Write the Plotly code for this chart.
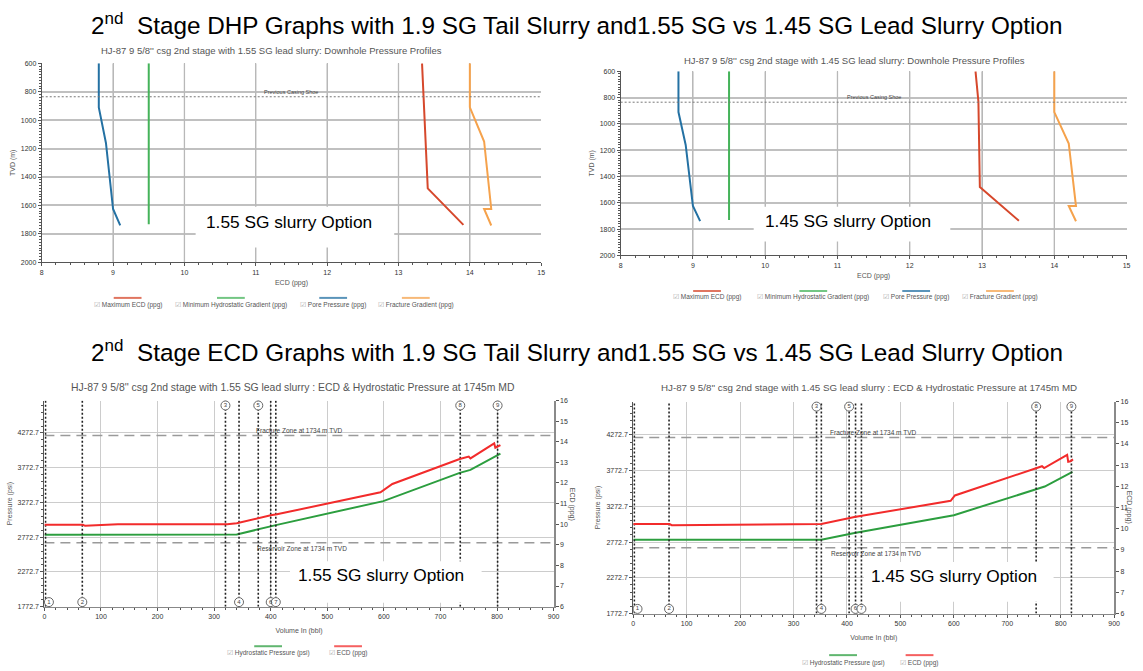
import plotly.graph_objects as go

# ---------------- data ----------------
# Downhole pressure profiles (ECD in ppg vs TVD in m)
pore_tvd = [600, 910, 1160, 1625, 1740]
pore_ppg = [8.8, 8.8, 8.9, 9.0, 9.1]
min_hyd_tvd = [600, 1732]
min_hyd_ppg = [9.5, 9.5]
frac_tvd = [600, 910, 1150, 1625, 1625, 1741]
frac_ppg = [14.0, 14.0, 14.2, 14.3, 14.2, 14.3]
max_ecd_155_tvd = [600, 1480, 1737]
max_ecd_155_ppg = [13.33, 13.41, 13.91]
max_ecd_145_tvd = [600, 830, 1480, 1737]
max_ecd_145_ppg = [12.91, 12.95, 12.97, 13.51]
casing_shoe_tvd = 835

# ECD & hydrostatic pressure at 1745 m MD vs volume pumped (bbl)
hyd_155_vol = [0, 340, 411, 599, 734, 753, 806]
hyd_155_psi = [2808, 2812, 2950, 3292, 3699, 3742, 3974]
ecd_155_vol = [0, 68, 72, 130, 323, 340, 400, 411, 594, 615, 734, 750, 753, 795, 797, 806]
ecd_155_ppg = [9.97, 9.97, 9.92, 10.0, 10.0, 10.05, 10.43, 10.48, 11.55, 11.95, 13.16, 13.28, 13.19, 13.92, 13.71, 13.84]

hyd_145_vol = [0, 352, 414, 600, 770, 822]
hyd_145_psi = [2805, 2805, 2900, 3149, 3550, 3757]
ecd_145_vol = [0, 68, 72, 352, 414, 594, 602, 765, 769, 812, 814, 818, 823]
ecd_145_ppg = [10.22, 10.22, 10.17, 10.22, 10.55, 11.32, 11.57, 12.95, 12.86, 13.48, 13.16, 13.18, 13.27]

event_labels = ["1", "2", "3", "4", "5", "6", "7", "8", "9"]
events_155_vol = [2, 67, 320, 344, 378, 400, 409, 735, 801]
events_145_vol = [2, 67, 343, 352, 404, 416, 427, 754, 820]
top_labelled = ["3", "5", "8", "9"]

fracture_zone_ppg = 14.3
reservoir_zone_ppg = 9.1
psi_ticks = [1772.7, 2272.7, 2772.7, 3272.7, 3772.7, 4272.7]
psi_ticktext = ["1772.7", "2272.7", "2772.7", "3272.7", "3772.7", "4272.7"]
ecd_ticks = [8, 9, 10, 11, 12, 13, 14, 15]
tvd_range = [600, 2000]

dhp_series = ["Maximum ECD (ppg)", "Minimum Hydrostatic Gradient (ppg)", "Pore Pressure (ppg)", "Fracture Gradient (ppg)"]
ecd_series = ["Hydrostatic Pressure (psi)", "ECD (ppg)"]

# ---------------- helpers ----------------
W, H = 1143, 671
FONT = "Liberation Sans"


def fx(p):
    return p / W


def fy(p):
    return 1 - p / H


C_MAX = "#d6482c"
C_MIN = "#45b35a"
C_PORE = "#2471a3"
C_FRAC = "#f5a24c"
C_HYD = "#2c9e3f"
C_ECD = "#f22b2b"
C_GRID_V = "#b8b8b8"

fig = go.Figure()


def dhp(xa, ya, max_tvd, max_ppg):
    # vertical grid lines at the ECD ticks (drawn first, under the data)
    for t in ecd_ticks[1:-1]:
        fig.add_trace(go.Scatter(x=[t, t], y=tvd_range, xaxis=xa, yaxis=ya, mode="lines",
                                 line=dict(color=C_GRID_V, width=1.3), hoverinfo="skip",
                                 cliponaxis=False))
    for xs, ys, c in [(max_ppg, max_tvd, C_MAX), (min_hyd_ppg, min_hyd_tvd, C_MIN),
                      (pore_ppg, pore_tvd, C_PORE), (frac_ppg, frac_tvd, C_FRAC)]:
        fig.add_trace(go.Scatter(x=xs, y=ys, xaxis=xa, yaxis=ya, mode="lines",
                                 line=dict(color=c, width=2), hoverinfo="skip"))
    fig.add_trace(go.Scatter(x=[8, 15], y=[casing_shoe_tvd, casing_shoe_tvd], xaxis=xa, yaxis=ya,
                             mode="lines", line=dict(color="#777", width=1, dash="2px,2px"),
                             hoverinfo="skip"))
    fig.add_annotation(x=11.5, y=casing_shoe_tvd, xref=xa, yref=ya, text="Previous Casing Shoe",
                       showarrow=False, yanchor="bottom",
                       font=dict(size=5.5, color="#444", family=FONT))


dhp("x", "y", max_ecd_155_tvd, max_ecd_155_ppg)
dhp("x2", "y2", max_ecd_145_tvd, max_ecd_145_ppg)


def ecd_chart(xa, ya, yb, hv, hp, ev, ep, events):
    for z in [fracture_zone_ppg, reservoir_zone_ppg]:
        fig.add_trace(go.Scatter(x=[0, 900], y=[z, z], xaxis=xa, yaxis=yb, mode="lines",
                                 line=dict(color="#9a9a9a", width=1.5, dash="10px,6px"),
                                 hoverinfo="skip"))
    fig.add_annotation(x=450, y=fracture_zone_ppg, xref=xa, yref=yb,
                       text="Fracture Zone at 1734 m TVD", showarrow=False, yanchor="bottom",
                       font=dict(size=6.5, color="#444", family=FONT))
    fig.add_annotation(x=455, y=reservoir_zone_ppg, xref=xa, yref=yb,
                       text="Reservoir Zone at 1734 m TVD", showarrow=False, yanchor="top",
                       font=dict(size=6.5, color="#444", family=FONT))
    lx, ly = [], []
    for v in events:
        lx += [v, v, None]
        ly += [6, 16, None]
    fig.add_trace(go.Scatter(x=lx, y=ly, xaxis=xa, yaxis=yb, mode="lines",
                             line=dict(color="#222", width=1.6, dash="2px,2px"), hoverinfo="skip"))
    fig.add_trace(go.Scatter(x=hv, y=hp, xaxis=xa, yaxis=ya, mode="lines",
                             line=dict(color=C_HYD, width=2), hoverinfo="skip"))
    fig.add_trace(go.Scatter(x=ev, y=ep, xaxis=xa, yaxis=yb, mode="lines",
                             line=dict(color=C_ECD, width=2), hoverinfo="skip"))
    cx = [max(v, 8) for v in events]
    cy = [15.76 if lab in top_labelled else 6.22 for lab in event_labels]
    fig.add_trace(go.Scatter(x=cx, y=cy, xaxis=xa, yaxis=yb, mode="markers+text",
                             text=event_labels, textposition="middle center",
                             textfont=dict(size=6, color="#444", family=FONT),
                             marker=dict(size=9, color="white", line=dict(color="#666", width=1)),
                             hoverinfo="skip", cliponaxis=False))


ecd_chart("x3", "y3", "y4", hyd_155_vol, hyd_155_psi, ecd_155_vol, ecd_155_ppg, events_155_vol)
ecd_chart("x4", "y5", "y6", hyd_145_vol, hyd_145_psi, ecd_145_vol, ecd_145_ppg, events_145_vol)

tickfont = dict(size=7, color="#333", family=FONT)
titlefont = dict(size=7, color="#555", family=FONT)
base = dict(showline=True, linecolor="#555", linewidth=1, ticks="outside", ticklen=3,
            tickcolor="#555", tickfont=tickfont, showgrid=True, gridcolor="#c8c8c8", gridwidth=1,
            zeroline=False, title_font=titlefont)

ecd_minor = [round(8 + 0.2 * k, 1) for k in range(36) if k % 5 != 0]
xa_dhp = dict(base, range=[8, 15], tickmode="array", tickvals=ecd_ticks,
              ticktext=[str(t) for t in ecd_ticks], showgrid=True,
              gridcolor=C_GRID_V, gridwidth=1,
              title=dict(text="ECD (ppg)", standoff=5),
              minor=dict(ticks="outside", ticklen=2, tickmode="array", tickvals=ecd_minor,
                         tickcolor="#555", showgrid=False))
ya_dhp = dict(base, range=[tvd_range[1], tvd_range[0]], dtick=200, gridwidth=1.5, gridcolor="#c0c0c0",
              title=dict(text="TVD (m)", standoff=4),
              minor=dict(ticks="outside", ticklen=2, dtick=20, tickcolor="#555", showgrid=False))

xa_vol = dict(base, range=[0, 900], dtick=100, linecolor="#888", gridcolor="#cccccc",
              title=dict(text="Volume In (bbl)", standoff=9),
              minor=dict(ticks="outside", ticklen=2, dtick=20, tickcolor="#555", showgrid=False))
ya_psi = dict(base, range=[1772.7, 4740], tickvals=psi_ticks, ticktext=psi_ticktext, gridcolor="#cccccc",
              title=dict(text="Pressure (psi)", standoff=4),
              minor=dict(ticks="outside", ticklen=2, tickvals=[1772.7 + 100 * k for k in range(30)],
                         tickcolor="#555", showgrid=False))
ya_ppg = dict(base, range=[6, 16], dtick=1, showgrid=False, side="right", linecolor="#8a8a8a",
              linewidth=2)

fig.update_layout(
    width=W, height=H, autosize=False, margin=dict(l=0, r=0, t=0, b=0, pad=0),
    paper_bgcolor="white", plot_bgcolor="rgba(0,0,0,0)", showlegend=False,
    font=dict(family=FONT),
    xaxis=dict(xa_dhp, domain=[fx(40), fx(543)], anchor="y"),
    yaxis=dict(ya_dhp, domain=[fy(261), fy(60)], anchor="x"),
    xaxis2=dict(xa_dhp, domain=[fx(623), fx(1132.5)], anchor="y2"),
    yaxis2=dict(ya_dhp, domain=[fy(254), fy(68)], anchor="x2"),
    xaxis3=dict(xa_vol, domain=[fx(42.7), fx(555.5)], anchor="y3"),
    yaxis3=dict(ya_psi, domain=[fy(609), fy(400.7)], anchor="x3"),
    yaxis4=dict(ya_ppg, overlaying="y3", anchor="x3"),
    xaxis4=dict(xa_vol, domain=[fx(635.7), fx(1120)], anchor="y5"),
    yaxis5=dict(ya_psi, domain=[fy(616), fy(401.7)], anchor="x4"),
    yaxis6=dict(ya_ppg, overlaying="y5", anchor="x4"),
)


# ---------------- text ----------------
def ann(x, y, text, size, color="#000", xanchor="center", angle=0, family=FONT):
    fig.add_annotation(xref="paper", yref="paper", x=fx(x), y=fy(y), text=text, showarrow=False,
                       xanchor=xanchor, yanchor="middle", textangle=angle,
                       font=dict(size=size, color=color, family=family))


ann(579, 20, "2<sup>nd</sup>\u00a0\u00a0Stage DHP Graphs with 1.9 SG Tail Slurry and1.55 SG vs 1.45 SG Lead Slurry Option", 24.3)
ann(579, 351, "2<sup>nd</sup>\u00a0\u00a0Stage ECD Graphs with 1.9 SG Tail Slurry and1.55 SG vs 1.45 SG Lead Slurry Option", 24.3)

ann(271, 47, "HJ-87 9 5/8'' csg 2nd stage with 1.55 SG lead slurry: Downhole Pressure Profiles", 9.5, "#555")
ann(859, 57, "HJ-87 9 5/8'' csg 2nd stage with 1.45 SG lead slurry: Downhole Pressure Profiles", 9.5, "#555")
ann(293, 388, "HJ-87 9 5/8'' csg 2nd stage with 1.55 SG lead slurry : ECD &amp; Hydrostatic Pressure at 1745m MD", 10.4, "#555")
ann(873, 388, "HJ-87 9 5/8'' csg 2nd stage with 1.45 SG lead slurry : ECD &amp; Hydrostatic Pressure at 1745m MD", 9.75, "#555")

ann(574, 506, "ECD (ppg)", 7, "#555", angle=90)
ann(1135, 508, "ECD (ppg)", 7, "#555", angle=90)

# white option boxes
for x0, x1, y0, y1, tx, ty, t in [
    (195, 395, 205, 246, 203, 220, "1.55 SG slurry Option"),
    (757, 955, 205, 240, 766, 219, "1.45 SG slurry Option"),
    (290, 483, 563, 605, 296, 577, "1.55 SG slurry Option"),
    (868, 1059, 564, 604, 873, 578, "1.45 SG slurry Option"),
]:
    fig.add_shape(type="rect", xref="paper", yref="paper", x0=fx(x0), x1=fx(x1), y0=fy(y1), y1=fy(y0),
                  fillcolor="white", line=dict(width=0), layer="above")
    ann(tx, ty, t, 17.3, "#000", xanchor="left")


# legends drawn as a coloured line above a checkbox + label
def legend_item(cx, ty, ly, text, color):
    fig.add_shape(type="line", xref="paper", yref="paper", x0=fx(cx - 14), x1=fx(cx + 14),
                  y0=fy(ly), y1=fy(ly), line=dict(color=color, width=2), opacity=0.75)
    ann(cx, ty, "<span style='color:#a8a8a8'>\u2611</span> " + text, 6.5, "#555")


dhp_colors = [C_MAX, C_MIN, C_PORE, C_FRAC]
for cx, name, c in zip([126.5, 230.5, 333.5, 416.7], dhp_series, dhp_colors):
    legend_item(cx, 304, 297, name, c)
for cx, name, c in zip([710, 817, 920.6, 1005], dhp_series, dhp_colors):
    legend_item(cx, 296, 290, name, c)
for cx, name, c in zip([268, 348.5], ecd_series, [C_HYD, C_ECD]):
    legend_item(cx, 656, 649, name, c)
for cx, name, c in zip([847, 924], ecd_series, [C_HYD, C_ECD]):
    legend_item(cx, 666, 658, name, c)

fig.write_html("out.html")
